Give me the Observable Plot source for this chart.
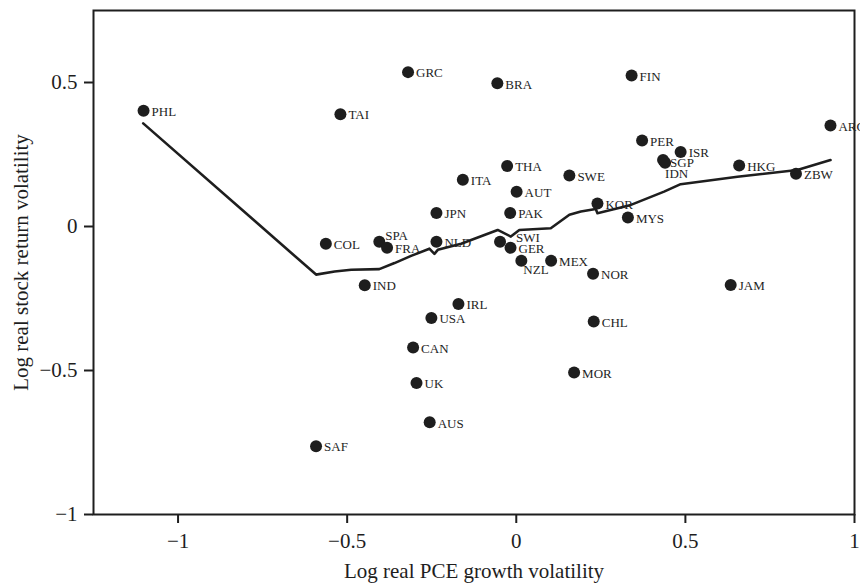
<!DOCTYPE html>
<html>
<head>
<meta charset="utf-8">
<script src="https://cdn.jsdelivr.net/npm/d3@7"></script>
<script src="https://cdn.jsdelivr.net/npm/@observablehq/plot@0.6"></script>
<style>
  html, body { margin: 0; padding: 0; background: white; overflow: hidden; }
</style>
</head>
<body>
<div id="chart"></div>
<script>
// Country codes and their volatilities (log real PCE growth vol, log real stock return vol)
const codes = ["PHL","GRC","BRA","TAI","FIN","ARG","PER","ISR","SGP","IDN","HKG","ZBW","THA","ITA","AUT","SWE","KOR","MYS","JPN","PAK","COL","SPA","FRA","NLD","SWI","GER","NZL","MEX","NOR","IND","JAM","IRL","USA","CHL","CAN","UK","MOR","AUS","SAF"];
const pceVol = [-1.102,-0.320,-0.056,-0.520,0.341,0.929,0.372,0.486,0.434,0.440,0.659,0.827,-0.027,-0.158,0.001,0.157,0.240,0.330,-0.236,-0.018,-0.563,-0.405,-0.382,-0.236,-0.048,-0.017,0.015,0.103,0.227,-0.448,0.634,-0.171,-0.251,0.229,-0.305,-0.295,0.171,-0.256,-0.592];
const stockVol = [0.402,0.536,0.497,0.390,0.524,0.351,0.299,0.259,0.231,0.221,0.212,0.183,0.210,0.162,0.121,0.177,0.080,0.031,0.047,0.047,-0.060,-0.053,-0.074,-0.053,-0.053,-0.074,-0.119,-0.119,-0.164,-0.204,-0.203,-0.269,-0.318,-0.330,-0.420,-0.543,-0.507,-0.680,-0.763];

// Nonparametric fit line
const fitX = [-1.103,-0.592,-0.537,-0.488,-0.405,-0.360,-0.311,-0.257,-0.242,-0.232,-0.163,-0.055,-0.016,0.009,0.102,0.157,0.191,0.235,0.240,0.339,0.437,0.486,0.654,0.831,0.929];
const fitY = [0.358,-0.167,-0.156,-0.150,-0.148,-0.127,-0.102,-0.077,-0.095,-0.081,-0.060,-0.012,-0.035,-0.012,-0.006,0.041,0.052,0.061,0.046,0.075,0.121,0.147,0.173,0.196,0.231];

// Axis ticks and titles
const xTicks = [-1, -0.5, 0, 0.5, 1];
const yTicks = [-1, -0.5, 0, 0.5];
const xTitle = "Log real PCE growth volatility";
const yTitle = "Log real stock return volatility";

const points = codes.map((c, i) => ({code: c, x: pceVol[i], y: stockVol[i]}));
const fit = fitX.map((x, i) => ({x, y: fitY[i]}));

const fmt = d => d < 0 ? "\u2212" + Math.abs(d) : String(d);
const ink = "#1e1e1e";
const serif = "'Liberation Serif', 'Times New Roman', serif";

const special = {SPA: [6, -6], SWI: [16, -4], NZL: [2, 9], IDN: [0, 11], SGP: [7, 3]};
const std = points.filter(d => !(d.code in special));
const labelMarks = [
  Plot.text(std, {x: "x", y: "y", text: "code", textAnchor: "start", dx: 8, dy: 1, fontSize: 13, fill: ink})
];
for (const [code, [dx, dy]] of Object.entries(special)) {
  labelMarks.push(Plot.text(points.filter(d => d.code === code), {x: "x", y: "y", text: "code", textAnchor: "start", dx, dy, fontSize: 13, fill: ink}));
}

const chart = Plot.plot({
  width: 860,
  height: 584,
  marginLeft: 93,
  marginRight: 6,
  marginTop: 10,
  marginBottom: 70,
  x: {domain: [-1.25, 1]},
  y: {domain: [-1, 0.75]},
  style: {fontFamily: serif, color: ink, background: "white"},
  marks: [
    Plot.axisX(xTicks, {tickSize: 9, tickPadding: 10, fontSize: 21, tickFormat: fmt, strokeWidth: 2, label: null, stroke: ink, fill: ink}),
    Plot.axisY(yTicks, {tickSize: 9, tickPadding: 7, fontSize: 21, tickFormat: fmt, strokeWidth: 2, label: null, stroke: ink, fill: ink}),
    Plot.frame({stroke: ink, strokeWidth: 2}),
    Plot.line(fit, {x: "x", y: "y", stroke: ink, strokeWidth: 2.6, curve: "linear"}),
    Plot.dot(points, {x: "x", y: "y", r: 6, fill: ink, stroke: null}),
    ...labelMarks,
    Plot.text([xTitle], {frameAnchor: "bottom", dy: 57, textAnchor: "middle", lineAnchor: "middle", fontSize: 21, fill: ink}),
    Plot.text([yTitle], {frameAnchor: "left", dx: -72, rotate: -90, textAnchor: "middle", lineAnchor: "middle", fontSize: 21, fill: ink})
  ]
});
document.getElementById("chart").appendChild(chart);
</script>
</body>
</html>
